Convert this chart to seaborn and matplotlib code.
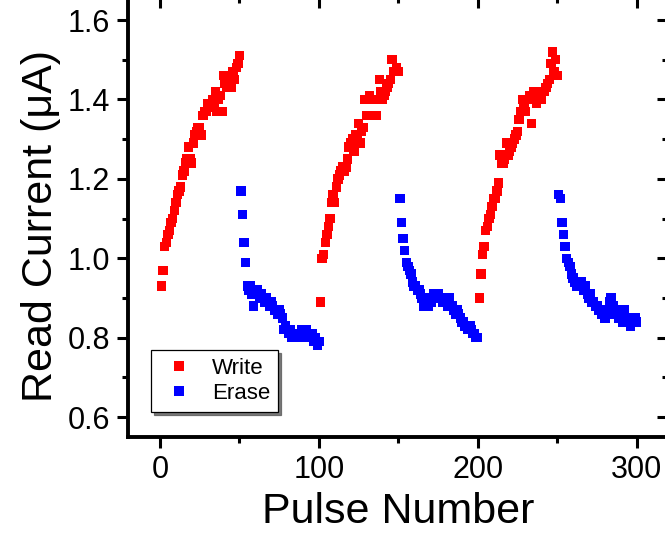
import numpy as np
import pandas as pd
import matplotlib
matplotlib.use('Agg')
import matplotlib.pyplot as plt
import seaborn as sns

# pulse numbers for each block of 50 pulses
write_x = list(range(1, 51)) + list(range(101, 151)) + list(range(201, 251))
erase_x = list(range(51, 101)) + list(range(151, 201)) + list(range(251, 301))

# read current (uA)
write_1 = [0.93, 0.97, 1.03, 1.04, 1.06, 1.07, 1.09, 1.10, 1.12, 1.14,
           1.16, 1.17, 1.18, 1.21, 1.22, 1.24, 1.25, 1.28, 1.25, 1.24,
           1.29, 1.31, 1.32, 1.33, 1.33, 1.31, 1.36, 1.37, 1.37, 1.39,
           1.38, 1.39, 1.40, 1.39, 1.42, 1.37, 1.40, 1.41, 1.37, 1.46,
           1.44, 1.43, 1.44, 1.45, 1.43, 1.47, 1.45, 1.48, 1.49, 1.51]
write_2 = [0.89, 1.00, 1.01, 1.04, 1.06, 1.08, 1.10, 1.14, 1.16, 1.14,
           1.18, 1.20, 1.21, 1.22, 1.23, 1.22, 1.23, 1.25, 1.28, 1.29,
           1.30, 1.27, 1.31, 1.30, 1.34, 1.29, 1.32, 1.33, 1.40, 1.36,
           1.40, 1.41, 1.40, 1.40, 1.40, 1.36, 1.40, 1.45, 1.42, 1.40,
           1.41, 1.42, 1.43, 1.44, 1.45, 1.50, 1.47, 1.47, 1.48, 1.47]
write_3 = [0.90, 0.96, 1.01, 1.03, 1.07, 1.08, 1.10, 1.11, 1.13, 1.15,
           1.15, 1.17, 1.19, 1.26, 1.24, 1.24, 1.25, 1.29, 1.26, 1.27,
           1.28, 1.29, 1.30, 1.31, 1.32, 1.35, 1.37, 1.40, 1.38, 1.37,
           1.40, 1.40, 1.41, 1.34, 1.42, 1.41, 1.39, 1.41, 1.42, 1.40,
           1.42, 1.42, 1.43, 1.44, 1.45, 1.49, 1.52, 1.47, 1.50, 1.46]
erase_1 = [1.17, 1.11, 1.04, 0.99, 0.93, 0.92, 0.93, 0.91, 0.88, 0.92,
           0.92, 0.91, 0.90, 0.91, 0.90, 0.89, 0.90, 0.89, 0.88, 0.89,
           0.88, 0.87, 0.87, 0.86, 0.87, 0.86, 0.85, 0.82, 0.83, 0.82,
           0.81, 0.82, 0.80, 0.81, 0.80, 0.81, 0.80, 0.81, 0.82, 0.80,
           0.81, 0.82, 0.80, 0.81, 0.80, 0.81, 0.79, 0.80, 0.78, 0.79]
erase_2 = [1.15, 1.09, 1.05, 1.02, 0.99, 0.98, 0.97, 0.96, 0.94, 0.93,
           0.93, 0.92, 0.92, 0.91, 0.90, 0.88, 0.89, 0.89, 0.88, 0.90,
           0.89, 0.91, 0.90, 0.91, 0.91, 0.90, 0.90, 0.89, 0.89, 0.89,
           0.88, 0.90, 0.88, 0.88, 0.87, 0.86, 0.87, 0.86, 0.85, 0.84,
           0.84, 0.83, 0.83, 0.82, 0.83, 0.82, 0.81, 0.81, 0.80, 0.80]
erase_3 = [1.16, 1.15, 1.09, 1.06, 1.03, 1.00, 0.99, 0.98, 0.96, 0.95,
           0.94, 0.93, 0.94, 0.93, 0.94, 0.93, 0.92, 0.93, 0.91, 0.90,
           0.91, 0.89, 0.89, 0.88, 0.88, 0.87, 0.87, 0.86, 0.86, 0.85,
           0.86, 0.87, 0.89, 0.90, 0.88, 0.87, 0.86, 0.86, 0.85, 0.86,
           0.84, 0.87, 0.85, 0.84, 0.84, 0.83, 0.85, 0.84, 0.85, 0.84]

write_y = write_1 + write_2 + write_3
erase_y = erase_1 + erase_2 + erase_3

df = pd.DataFrame({
    'pulse': write_x + erase_x,
    'current': write_y + erase_y,
    'mode': ['Write'] * len(write_x) + ['Erase'] * len(erase_x),
})

sns.set_style('ticks')
plt.rcParams['font.family'] = ['Liberation Sans', 'DejaVu Sans']
plt.rcParams['text.color'] = 'black'
plt.rcParams['axes.labelcolor'] = 'black'
plt.rcParams['xtick.color'] = 'black'
plt.rcParams['ytick.color'] = 'black'

fig = plt.figure(figsize=(6.65, 5.4), dpi=100)
ax = fig.add_axes([128.2 / 665, 103 / 540, 540.2 / 665, 440 / 540])

sns.scatterplot(data=df, x='pulse', y='current', hue='mode',
                hue_order=['Write', 'Erase'],
                palette={'Write': 'red', 'Erase': 'blue'},
                marker='s', s=46, linewidth=0, ax=ax)

ax.set_xlim(-20, 320)
ax.set_ylim(0.55, 1.658)
ax.set_xticks([0, 100, 200, 300])
ax.set_xticks([50, 150, 250], minor=True)
ax.set_yticks([0.6, 0.8, 1.0, 1.2, 1.4, 1.6])
ax.set_yticks([0.7, 0.9, 1.1, 1.3, 1.5], minor=True)
ax.set_xticklabels(['0', '100', '200', '300'])
ax.set_yticklabels(['0.6', '0.8', '1.0', '1.2', '1.4', '1.6'])

for sp in ax.spines.values():
    sp.set_visible(True)
    sp.set_linewidth(2.8)
    sp.set_color('black')

ax.tick_params(which='major', direction='out', length=8, width=2.2,
               labelsize=22, pad=5, colors='black')
ax.tick_params(which='minor', direction='out', length=4, width=2.2)

# mirrored ticks pointing inward on top and right
top = ax.secondary_xaxis('top')
top.set_xticks([0, 100, 200, 300])
top.set_xticks([50, 150, 250], minor=True)
top.tick_params(which='major', direction='in', length=8, width=2.2, labeltop=False)
top.tick_params(which='minor', direction='in', length=4, width=2.2)
right = ax.secondary_yaxis('right')
right.set_yticks([0.6, 0.8, 1.0, 1.2, 1.4, 1.6])
right.set_yticks([0.7, 0.9, 1.1, 1.3, 1.5], minor=True)
right.tick_params(which='major', direction='in', length=8, width=2.2, labelright=False)
right.tick_params(which='minor', direction='in', length=4, width=2.2)
for sec in (top, right):
    for sp in sec.spines.values():
        sp.set_linewidth(2.8)

ax.set_xlabel('Pulse Number', fontsize=31, labelpad=5)
ax.set_ylabel('Read Current (\u03bcA)', fontsize=31, labelpad=5)
ax.yaxis.set_label_coords(-0.125, 0.48)

leg = ax.legend(loc='upper left', bbox_to_anchor=(151 / 665, 1 - 350 / 540),
                bbox_transform=fig.transFigure, borderaxespad=0,
                fontsize=16, markerscale=1.0, frameon=True, fancybox=False,
                shadow={'color': '0.35', 'alpha': 0.8}, edgecolor='black', framealpha=1,
                handlelength=1.8, handletextpad=0.6, labelspacing=0.2,
                borderpad=0.35, title=None)
leg.get_frame().set_linewidth(0.9)

fig.savefig('out.png', dpi=100)
